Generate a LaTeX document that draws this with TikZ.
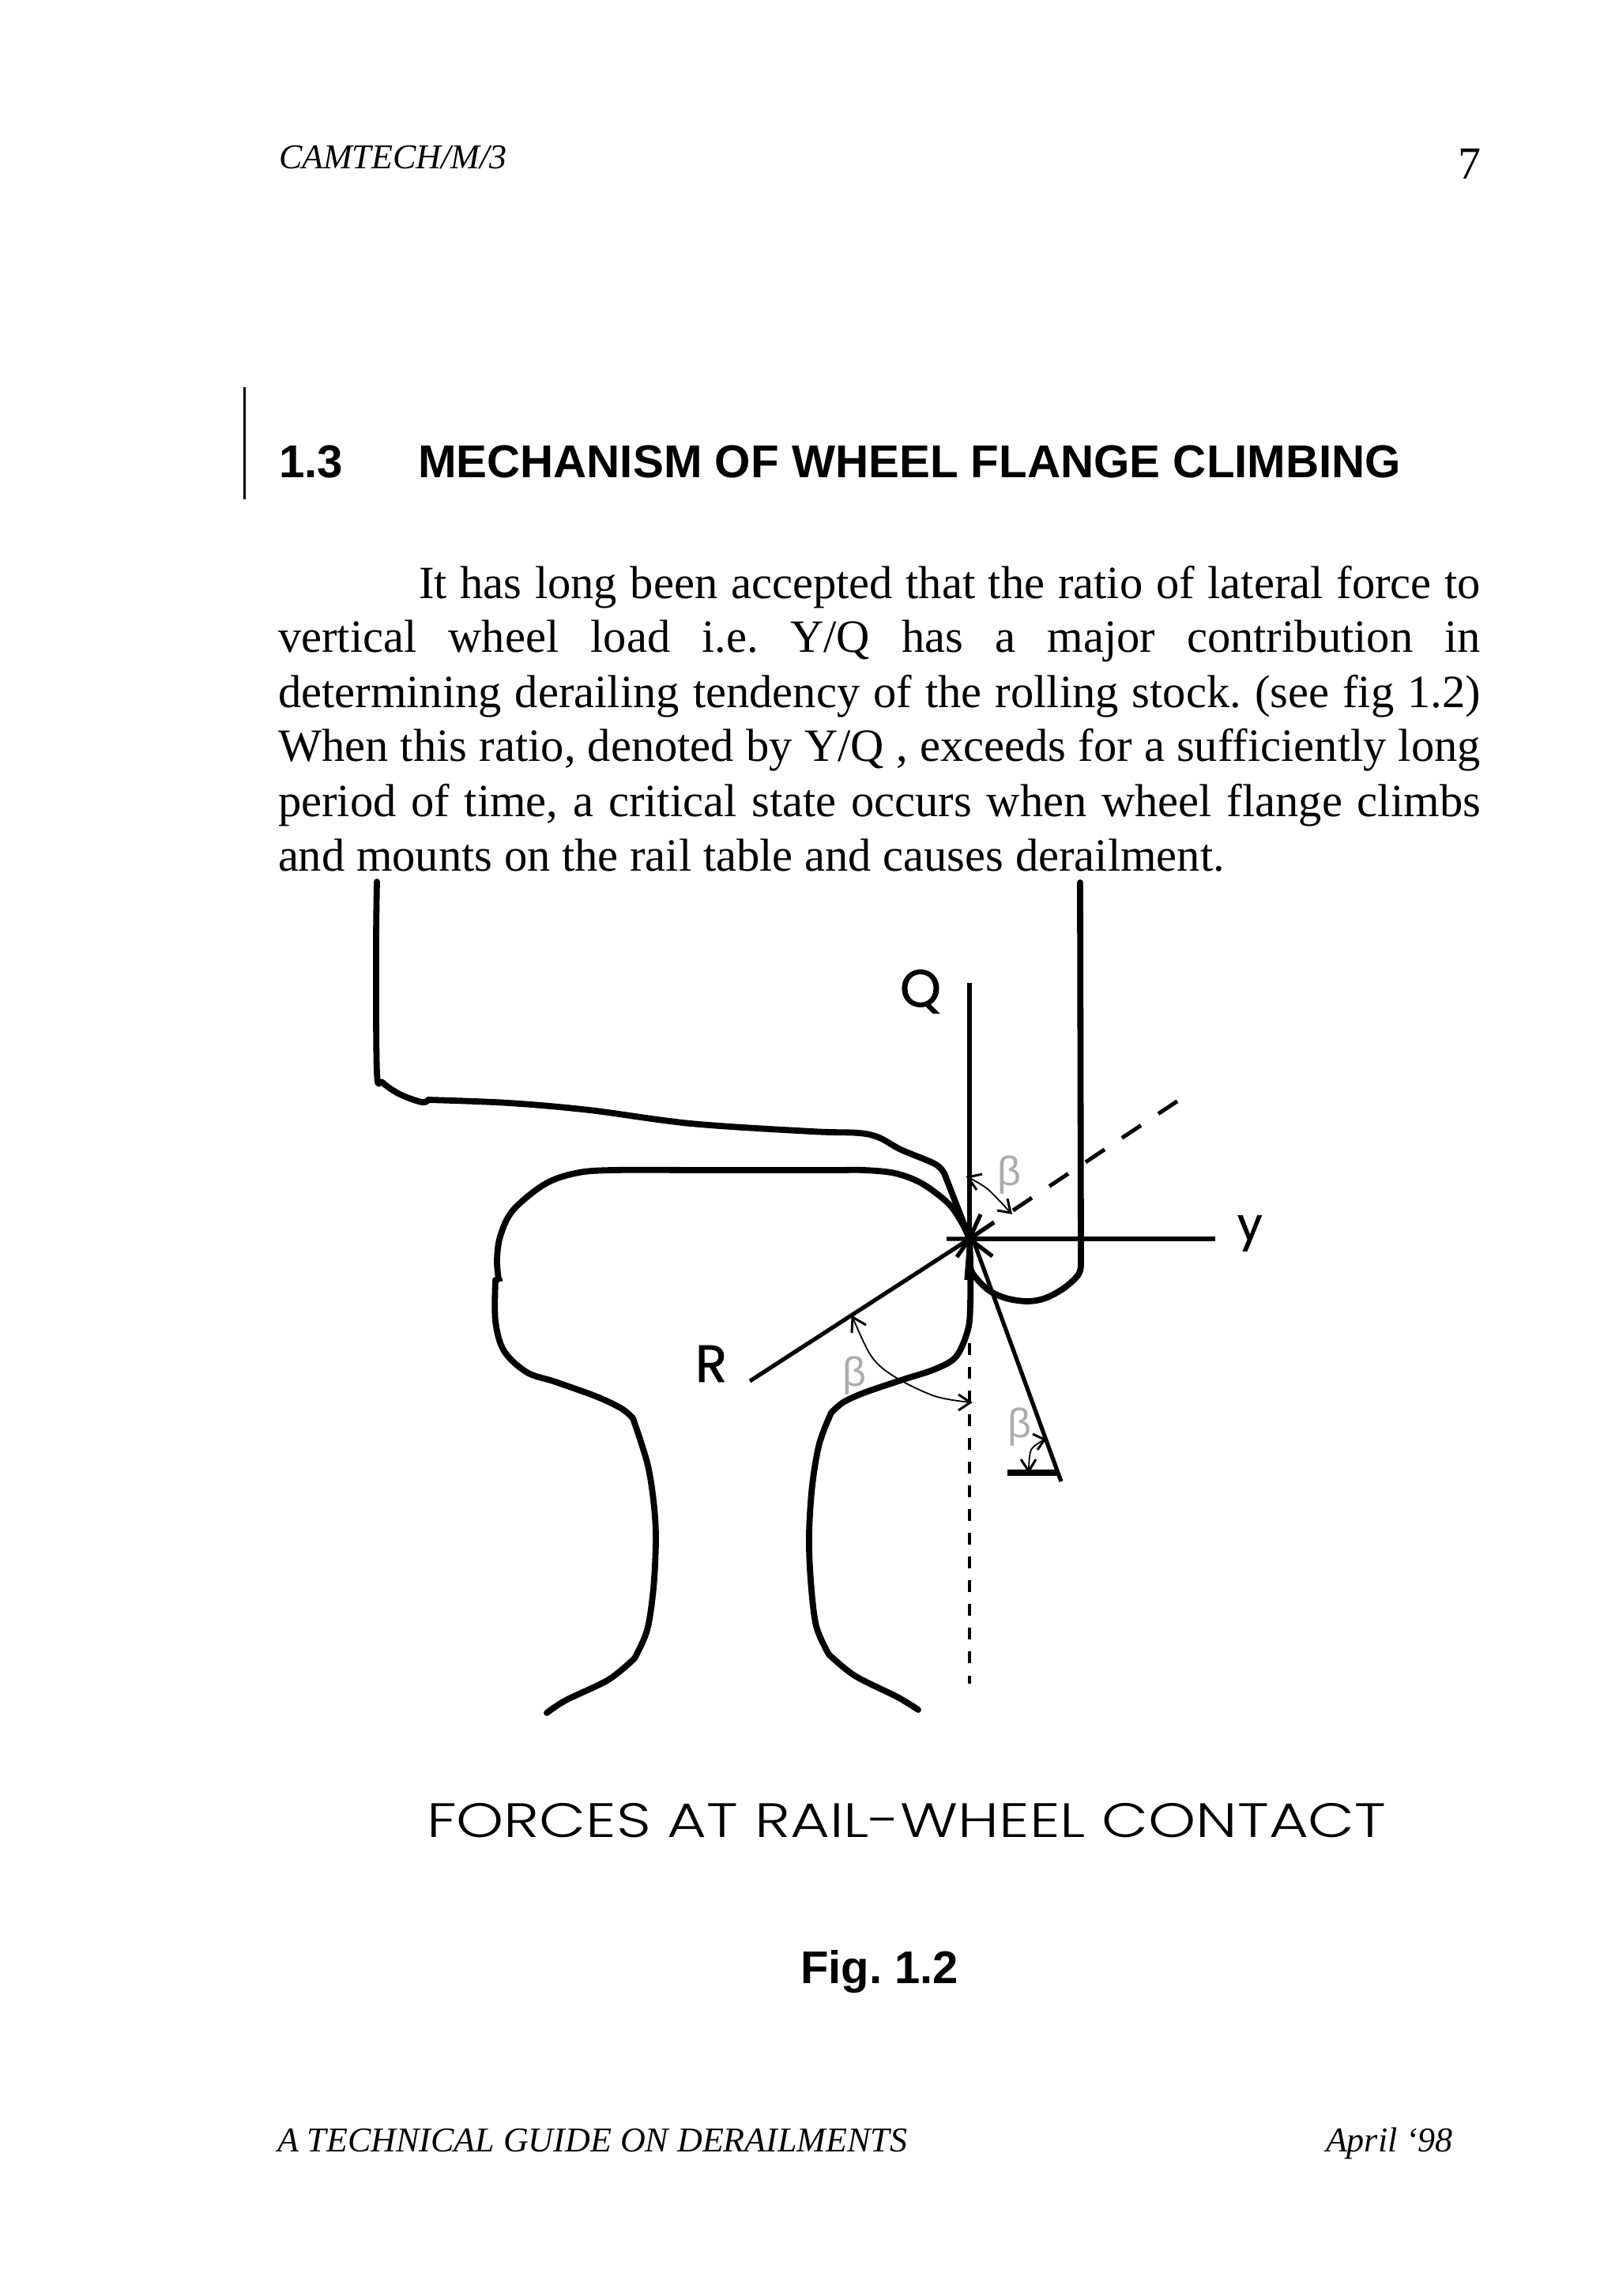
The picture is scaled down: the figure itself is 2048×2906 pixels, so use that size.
\documentclass[tikz,border=0pt]{standalone}
\usepackage{fontspec}
\setmainfont{Liberation Serif}
\setsansfont{Liberation Sans}
\newfontfamily\geofont[FakeBold=1.2]{Poppins}
\newfontfamily\capfont[FakeStretch=1.253]{Poppins Light}
\newlength{\pxlen}
\newcommand{\setpx}[1]{\pxlen=#1pt \pxlen=0.2845\pxlen \fontsize{\pxlen}{\pxlen}\selectfont\frenchspacing}
\tikzset{
  txt/.style={anchor=base west,inner sep=0pt,outer sep=0pt},
  body/.style={txt,font=\setpx{58.5}},
  foot/.style={txt,font=\setpx{44}\itshape},
  head/.style={txt,font=\setpx{58.3}\sffamily\bfseries},
  letter/.style={txt,font=\setpx{66}\geofont},
  greek/.style={inner sep=0pt,outer sep=0pt,text=gray!65,font=\setpx{52}\sffamily},
  main/.style={line width=0.078cm,line join=round,line cap=round},
  force/.style={line width=0.052cm},
  barb/.style={line width=0.03cm},
  arcline/.style={line width=0.018cm},
  curve/.style={smooth,tension=0.55},
}
\begin{document}
\begin{tikzpicture}[x=0.01cm,y=-0.01cm]
\useasboundingbox (0,0) rectangle (2048,2906);
% page text
\node[foot] (hdr) at (353,213) {CAMTECH/M/3};
\node[txt,font=\setpx{58}] (pg) at (1845,227) {7};
\coordinate (bart) at (309,490); \coordinate (barb) at (309,632);
\draw[line width=0.03cm] (bart) -- (barb);
\node[head] (h1) at (353,604) {1.3};
\node[head] (h2) at (529,604) {MECHANISM OF WHEEL FLANGE CLIMBING};
\node[body] (l1) at (530,757) {\hbox to 13.43cm{It has long been accepted that the ratio of lateral force to}};
\node[body] (l2) at (352,825) {\hbox to 15.21cm{vertical wheel load i.e. Y/Q has a major contribution in}};
\node[body] (l3) at (352,895) {\hbox to 15.21cm{determining derailing tendency of the rolling stock. (see fig 1.2)}};
\node[body] (l4) at (352,963) {\hbox to 15.21cm{When this ratio, denoted by Y/Q , exceeds for a sufficiently long}};
\node[body] (l5) at (352,1033) {\hbox to 15.21cm{period of time, a critical state occurs when wheel flange climbs}};
\node[body] (l6) at (352,1102) {and mounts on the rail table and causes derailment.};
\node[txt,font=\setpx{61}\capfont] (cap) at (540,2325) {FORCES AT RAIL-WHEEL CONTACT};
\node[txt,font=\setpx{58}\sffamily\bfseries] (fig) at (1013,2510) {Fig. 1.2};
\node[foot] (f1) at (351,2723) {A TECHNICAL GUIDE ON DERAILMENTS};
\node[foot] (f2) at (1678,2723) {April ‘98};
% labels
\node[letter] (Q) at (1139,1274) {Q};
\node[letter] (R) at (880,1749) {R};
\node[txt,font=\setpx{56}\geofont] (Y) at (1566,1569) {y};
\node[greek] (b1) at (1277,1487) {β};
\node[greek] (b2) at (1081,1741) {β};
\node[greek] (b3) at (1290,1806) {β};
% key points
\coordinate (C) at (1227,1568);
\coordinate (Qt) at (1227,1244);
\coordinate (Ye) at (1538,1568);
\coordinate (Rs) at (949,1748);
\coordinate (Ie) at (1343,1875);
\coordinate (Is) at (1233,1573);
% rail head
\draw[main] plot[curve] coordinates {(631,1619) (629,1595) (633,1565) (649,1532) (689,1499) (728,1485) (775,1481) (900,1481) (1050,1481) (1093,1481) (1133,1485) (1167,1498) (1200,1523) (1217,1547) (1227,1568)};
\draw[line width=0.035cm] (625,1619) -- (636,1620);
% rail left side
\draw[main] plot[curve] coordinates {(627,1620) (627,1672) (638,1710) (667,1737) (703,1749) (756,1768) (787,1783) (801,1795)};
\draw[main] plot[curve] coordinates {(801,1795) (819,1851) (827,1899) (830,1947) (827,2010) (819,2063) (803,2099)};
\draw[main] plot[curve] coordinates {(803,2099) (770,2126) (716,2152) (692,2168)};
% rail right side
\draw[main] plot[curve] coordinates {(1227,1568) (1228,1600) (1228,1650) (1225,1683) (1210,1717) (1183,1733) (1140,1747) (1093,1763) (1067,1775) (1052,1788)};
\draw[main] plot[curve] coordinates {(1052,1788) (1037,1827) (1028,1880) (1024,1942) (1026,2000) (1033,2058) (1049,2094)};
\draw[main] plot[curve] coordinates {(1049,2094) (1082,2121) (1136,2148) (1162,2164)};
% wheel
\draw[main] plot[curve] coordinates {(477,1116) (476,1200) (477,1357) (484,1370) (506,1385) (534,1395) (542,1392)};
\draw[main] plot[curve] coordinates {(542,1392) (644,1396) (746,1405) (874,1422) (1027,1432) (1087,1434) (1113,1440) (1140,1455) (1183,1473) (1195,1485)};
\draw[main] (1195,1485) -- (1227,1567);
\draw[main] (1367,1117) -- (1368,1600);
\draw[main] plot[curve] coordinates {(1368,1600) (1365,1613) (1347,1630) (1323,1643) (1300,1647) (1273,1643) (1250,1632) (1230,1610) (1228,1590)};
% forces
\draw[force] (Qt) -- (C);
\draw[force] (C) -- (Ye);
\draw[force] (Rs) -- (C);
\draw[force] (Is) -- (Ie);
\draw[line width=0.08cm] (1275,1864) -- (1338,1864);
% dashed normal
\coordinate (N1) at (1282,1532); \coordinate (N2) at (1491,1393);
\draw[line width=0.05cm,dash pattern=on 8.2pt off 7.5pt] (N1) -- (N2);
\draw[line width=0.05cm] (C) -- (1258,1547);
% dashed vertical
\coordinate (V1) at (1227,1670); \coordinate (V2) at (1227,2131);
\draw[line width=0.035cm,dash pattern=on 4.27pt off 4.27pt] (V1) -- (V2);
% arrow barbs at contact
\draw[force] (1198,1568) -- (C) -- (1211,1591);
\draw[force] (1241,1537) -- (C) -- (1258,1547);
\draw[force] (1256,1590) -- (C) -- (1223,1620);
% angle arcs
\draw[arcline] plot[curve] coordinates {(1225,1490) (1250,1505) (1279,1535)};
\draw[barb] (1243,1486) -- (1225,1490) -- (1236,1506);
\draw[barb] (1262,1532) -- (1279,1535) -- (1275,1517);
\draw[arcline] plot[curve] coordinates {(1079,1667) (1103,1717) (1133,1743) (1183,1767) (1228,1775)};
\draw[barb] (1078,1687) -- (1079,1667) -- (1096,1677);
\draw[barb] (1213,1765) -- (1228,1775) -- (1213,1785);
\draw[arcline] plot[curve] coordinates {(1322,1822) (1305,1835) (1302,1862)};
\draw[barb] (1307,1815) -- (1322,1822) -- (1313,1835);
\draw[barb] (1292,1847) -- (1302,1862) -- (1311,1847);
\end{tikzpicture}
\end{document}
